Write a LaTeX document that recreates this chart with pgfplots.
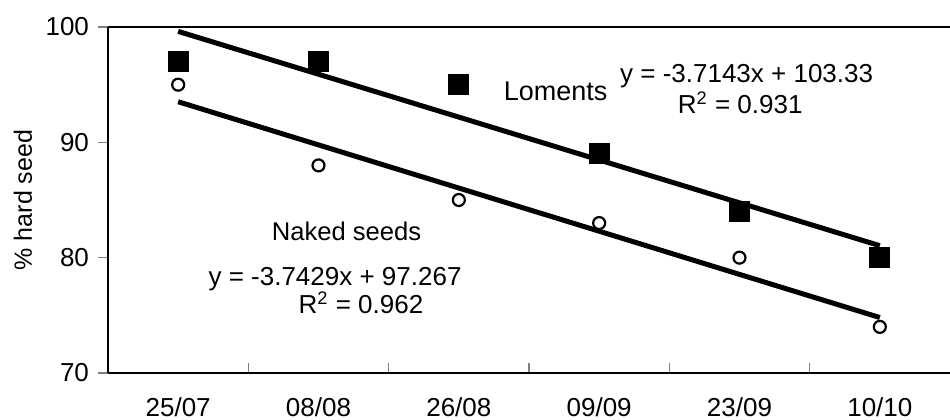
\documentclass[border=0pt]{standalone}
\usepackage{fontspec}
\setmainfont{Liberation Sans}
\usepackage{pgfplots}
\pgfplotsset{compat=1.18}
\begin{document}
\begin{tikzpicture}
\path[use as bounding box] (-54pt,-23pt) rectangle (421pt,186.5pt);
\begin{axis}[
  at={(0,0)}, anchor=south west,
  scale only axis,
  width=421pt, height=173pt,
  xmin=0.5, xmax=6.5, ymin=70, ymax=100,
  axis lines*=left,
  axis line style={line width=0.8pt},
  xtick={1.5,2.5,3.5,4.5,5.5},
  xticklabels={},
  xtick align=inside,
  x tick style={line width=0.6pt},
  extra x ticks={1,2,3,4,5,6},
  extra x tick labels={25/07,08/08,26/08,09/09,23/09,10/10},
  extra x tick style={major tick length=0pt},
  ytick={70,80,90,100},
  ytick align=outside,
  y tick style={line width=0.6pt},
  major tick length=5pt,
  tick label style={font=\fontsize{13}{15}\selectfont},
  x tick label style={anchor=base, yshift=-21.5pt},
  y tick label style={xshift=-1pt},
  /pgf/number format/assume math mode=true,
  clip=false,
]
\draw[line width=0.8pt] (rel axis cs:0,1) -- (rel axis cs:1,1);
\node[rotate=90, font=\fontsize{12.5}{14}\selectfont] at ([xshift=-42.5pt]rel axis cs:0,0.5) {\% hard seed};
% trend lines
\addplot[black, line width=2.5pt, no marks] coordinates {(1,99.62) (6,81.04)};
\addplot[black, line width=2.5pt, no marks] coordinates {(1,93.52) (6,74.81)};
% Loments
\addplot[only marks, mark=square*, mark size=5pt, black] coordinates {
(1,97) (2,97) (3,95) (4,89) (5,84) (6,80)};
% Naked seeds
\addplot[only marks, mark=*, mark size=3pt, black, mark options={fill=white, line width=1.1pt}] coordinates {
(1,95) (2,88) (3,85) (4,83) (5,80) (6,74)};
\node[anchor=base, font=\fontsize{13.5}{15}\selectfont] at (axis cs:3.690,93.67) {Loments};
\node[anchor=base, font=\fontsize{13}{15}\selectfont] at (axis cs:5.051,95.23) {y = -3.7143x + 103.33};
\node[anchor=base, font=\fontsize{13}{15}\selectfont] at (axis cs:5.005,92.54) {R\textsuperscript{2} = 0.931};
\node[anchor=base, font=\fontsize{12.8}{15}\selectfont] at (axis cs:2.200,81.53) {Naked seeds};
\node[anchor=base, font=\fontsize{13}{15}\selectfont] at (axis cs:2.118,77.62) {y = -3.7429x + 97.267};
\node[anchor=base, font=\fontsize{13}{15}\selectfont] at (axis cs:2.303,75.20) {R\textsuperscript{2} = 0.962};
\end{axis}
\end{tikzpicture}
\end{document}
